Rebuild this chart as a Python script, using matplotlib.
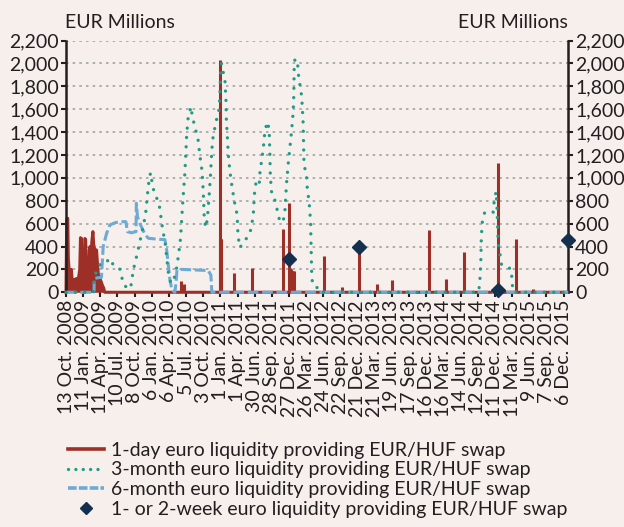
import numpy as np
import pandas as pd
import matplotlib
matplotlib.use('Agg')
import matplotlib.pyplot as plt
from matplotlib.ticker import FuncFormatter, MultipleLocator
from matplotlib.lines import Line2D

plt.rcParams['font.family'] = ['Lato', 'DejaVu Sans']

# 1-day swap, dense period at the start (EUR millions)
day1_dates = ['2008-10-13', '2008-10-14', '2008-10-17', '2008-10-22', '2008-10-25', '2008-10-29',
              '2008-11-05', '2008-11-10', '2008-11-14', '2008-11-20', '2008-11-26', '2008-12-01',
              '2008-12-06', '2008-12-12', '2008-12-18', '2008-12-24', '2008-12-28', '2009-01-02',
              '2009-01-06', '2009-01-11', '2009-01-16', '2009-01-20', '2009-01-24', '2009-01-28',
              '2009-02-02', '2009-02-07', '2009-02-12', '2009-02-16', '2009-02-21', '2009-02-26',
              '2009-03-03', '2009-03-07', '2009-03-12', '2009-03-17', '2009-03-22', '2009-03-27',
              '2009-04-01', '2009-04-06', '2009-04-11', '2009-04-16', '2009-04-22', '2009-04-28',
              '2009-05-04', '2015-12-31']
day1_vals = [0, 200, 640, 647, 300, 200,
             190, 200, 110, 90, 110, 80,
             120, 95, 130, 200, 477, 470,
             150, 80, 120, 470, 460, 120,
             70, 90, 370, 400, 330, 450,
             530, 420, 380, 300, 370, 250,
             150, 130, 110, 90, 60, 40,
             0, 0]

# 1-day swap, isolated spikes later on
spike_dates = ['2010-06-06', '2010-06-12', '2010-06-24', '2010-12-30', '2011-01-01', '2011-01-03',
               '2011-01-05', '2011-03-14', '2011-06-16', '2011-11-26', '2011-12-28', '2012-01-02',
               '2012-01-07', '2012-01-12', '2012-01-17', '2012-01-22', '2012-06-29', '2012-09-28',
               '2012-12-28', '2013-04-02', '2013-06-21', '2013-12-30', '2014-03-31', '2014-06-30',
               '2014-12-28', '2015-03-30', '2015-06-27']
spike_vals = [100, 60, 75, 2030, 466, 466,
              466, 166, 212, 553, 778, 210,
              200, 190, 186, 186, 315, 49,
              390, 72, 107, 545, 113, 350,
              1127, 463, 26]

# 3-month swap
m3_dates = ['2008-10-13', '2009-03-06', '2009-03-10', '2009-03-14', '2009-03-23', '2009-04-09',
            '2009-05-05', '2009-05-29', '2009-06-18', '2009-07-21', '2009-08-01', '2009-08-09',
            '2009-09-06', '2009-09-18', '2009-10-01', '2009-10-22', '2009-11-14', '2009-12-04',
            '2009-12-13', '2009-12-24', '2009-12-31', '2010-01-10', '2010-01-23', '2010-02-11',
            '2010-02-18', '2010-03-03', '2010-03-18', '2010-04-02', '2010-04-16', '2010-04-28',
            '2010-05-13', '2010-05-25', '2010-06-06', '2010-06-17', '2010-06-29', '2010-07-08',
            '2010-07-16', '2010-07-31', '2010-08-06', '2010-08-24', '2010-09-06', '2010-09-15',
            '2010-09-27', '2010-10-03', '2010-10-08', '2010-10-15', '2010-10-24', '2010-11-03',
            '2010-11-10', '2010-11-15', '2010-11-21', '2010-12-07', '2010-12-26', '2010-12-30',
            '2011-01-02', '2011-01-07', '2011-01-25', '2011-01-30', '2011-02-01', '2011-02-06',
            '2011-02-11', '2011-02-20', '2011-03-04', '2011-03-18', '2011-03-30', '2011-04-03',
            '2011-04-13', '2011-05-18', '2011-06-05', '2011-06-22', '2011-06-27', '2011-07-01',
            '2011-07-10', '2011-07-24', '2011-07-27', '2011-08-14', '2011-08-23', '2011-09-05',
            '2011-09-14', '2011-09-18', '2011-09-20', '2011-09-27', '2011-10-09', '2011-10-26',
            '2011-11-09', '2011-11-26', '2011-12-05', '2011-12-14', '2011-12-23', '2011-12-31',
            '2012-01-09', '2012-01-18', '2012-01-21', '2012-01-23', '2012-01-27', '2012-02-09',
            '2012-02-17', '2012-02-26', '2012-03-02', '2012-03-05', '2012-03-10', '2012-03-12',
            '2012-03-14', '2012-03-19', '2012-03-28', '2012-03-31', '2012-04-11', '2012-04-18',
            '2012-04-20', '2012-04-22', '2012-04-24', '2012-04-29', '2012-05-28', '2012-06-06',
            '2014-09-13', '2014-09-18', '2014-09-23', '2014-09-28', '2014-10-01', '2014-10-07',
            '2014-10-19', '2014-12-02', '2014-12-07', '2014-12-17', '2014-12-21', '2014-12-25',
            '2014-12-28', '2015-01-06', '2015-01-15', '2015-02-01', '2015-03-07', '2015-03-10',
            '2015-03-14', '2015-03-20', '2015-12-31']
m3_vals = [0, 0, 84, 137, 195, 240,
           245, 297, 240, 210, 137, 72,
           26, 50, 195, 340, 515, 675,
           835, 1000, 1045, 929, 850, 790,
           720, 560, 420, 180, 79, 93,
           180, 311, 472, 778, 1054, 1375,
           1535, 1622, 1541, 1418, 1331, 1200,
           1054, 879, 661, 565, 632, 850,
           1025, 1185, 1331, 1477, 1608, 1768,
           1928, 2000, 1841, 1681, 1521, 1360,
           1215, 1054, 909, 769, 676, 501,
           390, 472, 516, 661, 822, 909,
           981, 953, 1040, 1258, 1418, 1490,
           1418, 1171, 1010, 865, 836, 719,
           617, 617, 704, 953, 1127, 1258,
           1404, 1578, 1724, 1958, 2040, 2015,
           1855, 1783, 1710, 1637, 1477, 1316,
           1156, 1084, 1010, 923, 778, 617,
           457, 311, 151, 64, 35, 0,
           0, 20, 100, 250, 490, 635,
           700, 700, 790, 880, 780, 600,
           430, 341, 239, 224, 205, 120,
           40, 0, 0]

# 6-month swap
m6_dates = ['2008-10-13', '2009-03-09', '2009-03-10', '2009-04-17', '2009-04-26', '2009-05-14',
            '2009-05-31', '2009-06-27', '2009-07-23', '2009-08-23', '2009-08-31', '2009-09-22',
            '2009-10-15', '2009-10-17', '2009-10-23', '2009-11-05', '2009-11-20', '2009-12-04',
            '2009-12-19', '2010-01-31', '2010-03-16', '2010-03-25', '2010-04-02', '2010-04-11',
            '2010-04-22', '2010-05-07', '2010-05-13', '2010-05-18', '2010-06-12', '2010-10-29',
            '2010-11-12', '2010-11-17', '2015-12-31']
m6_vals = [0, 0, 122, 131, 400, 515,
           588, 608, 617, 617, 530, 520,
           530, 778, 661, 600, 545, 500,
           472, 465, 460, 370, 250, 107,
           20, 0, 80, 195, 200, 190,
           150, 0, 0]

# 1- or 2-week swap
week_dates = ['2011-12-27', '2012-12-28', '2014-12-28', '2015-12-28']
week_vals = [295, 399, 20, 457]

tick_labels = ['13 Oct. 2008', '11 Jan. 2009', '11 Apr. 2009', '10 Jul. 2009', '8 Oct. 2009',
               '6 Jan. 2010', '6 Apr. 2010', '5 Jul. 2010', '3 Oct. 2010', '1 Jan. 2011',
               '1 Apr. 2011', '30 Jun. 2011', '28 Sep. 2011', '27 Dec. 2011', '26 Mar. 2012',
               '24 Jun. 2012', '22 Sep. 2012', '21 Dec. 2012', '21 Mar. 2013', '19 Jun. 2013',
               '17 Sep. 2013', '16 Dec. 2013', '16 Mar. 2014', '14 Jun. 2014', '12 Sep. 2014',
               '11 Dec. 2014', '11 Mar. 2015', '9 Jun. 2015', '7 Sep. 2015', '6 Dec. 2015']

legend_labels = ['1-day euro liquidity providing EUR/HUF swap',
                 '3-month euro liquidity providing EUR/HUF swap',
                 '6-month euro liquidity providing EUR/HUF swap',
                 '1- or 2-week euro liquidity providing EUR/HUF swap']

bg = '#F6EFEC'
ink = '#231F20'
c_red = '#9E2F27'
c_teal = '#1E9C88'
c_blue = '#6DAAD6'
c_navy = '#13304F'

tick_pos = pd.to_datetime([t.replace('.', '') for t in tick_labels], format='%d %b %Y')

fig = plt.figure(figsize=(6.24, 5.27), dpi=100, facecolor=bg)
ax = fig.add_axes([0.1058, 0.4454, 0.8049, 0.4776], facecolor=bg)

d1 = pd.to_datetime(day1_dates)
ax.fill_between(d1, 0, day1_vals, color=c_red, lw=0, zorder=2)
ax.plot(d1, day1_vals, color=c_red, lw=2.2, zorder=2, clip_on=False)
ax.vlines(pd.to_datetime(spike_dates), 0, spike_vals, color=c_red, lw=2.2, zorder=2)

ax.plot(pd.to_datetime(m6_dates), m6_vals, color=c_blue, lw=2.2,
        linestyle=(0, (3.5, 1.2)), zorder=3, clip_on=False)
ax.plot(pd.to_datetime(m3_dates), m3_vals, color=c_teal, lw=2.4,
        linestyle=(0, (0.01, 2.8)), dash_capstyle='round', zorder=4, clip_on=False)
ax.plot(pd.to_datetime(week_dates), week_vals, linestyle='none', marker='D', ms=7,
        color=c_navy, zorder=5, clip_on=False)

ax.set_xlim(pd.Timestamp('2008-10-13'), pd.Timestamp('2015-12-31'))
ax.set_ylim(0, 2200)
ax.yaxis.set_major_locator(MultipleLocator(200))
ax.yaxis.set_major_formatter(FuncFormatter(lambda v, p: f'{int(v):,}'))
ax.set_xticks(tick_pos)
ax.set_xticklabels(tick_labels, rotation=90)

ax.grid(axis='y', color='#A3A3A3', lw=1.2, linestyle=(0, (1.5, 2.5)), zorder=0)
ax.set_axisbelow(True)

for s in ['top', 'bottom']:
    ax.spines[s].set_visible(False)
for s in ['left', 'right']:
    ax.spines[s].set_color(ink)
    ax.spines[s].set_linewidth(1.8)

ax.tick_params(axis='y', which='both', left=True, right=True, labelleft=True, labelright=True,
               direction='out', length=3.5, width=1.5, color=ink, labelcolor=ink,
               labelsize=14, pad=1.5)
ax.tick_params(axis='x', direction='out', length=3.5, width=1.5, color=ink, labelcolor=ink,
               labelsize=14, pad=2)

fig.text(65 / 624, 1 - 22 / 527, 'EUR Millions', ha='left', va='center', fontsize=14, color=ink)
fig.text(568 / 624, 1 - 22 / 527, 'EUR Millions', ha='right', va='center', fontsize=14, color=ink)

handles = [Line2D([], [], color=c_red, lw=2.6),
           Line2D([], [], color=c_teal, lw=2.4, linestyle=(0, (0.01, 2.2)), dash_capstyle='round'),
           Line2D([], [], color=c_blue, lw=2.6, linestyle=(0, (2.4, 0.6))),
           Line2D([], [], color=c_navy, linestyle='none', marker='D', ms=6.5)]
fig.legend(handles, legend_labels, loc='upper left', bbox_to_anchor=(58 / 624, 1 - 432 / 527),
           frameon=False, fontsize=14, handlelength=1.85, handletextpad=0.4,
           labelspacing=0.14, borderpad=0, labelcolor=ink)

fig.savefig('out.png', dpi=100, facecolor=bg)
